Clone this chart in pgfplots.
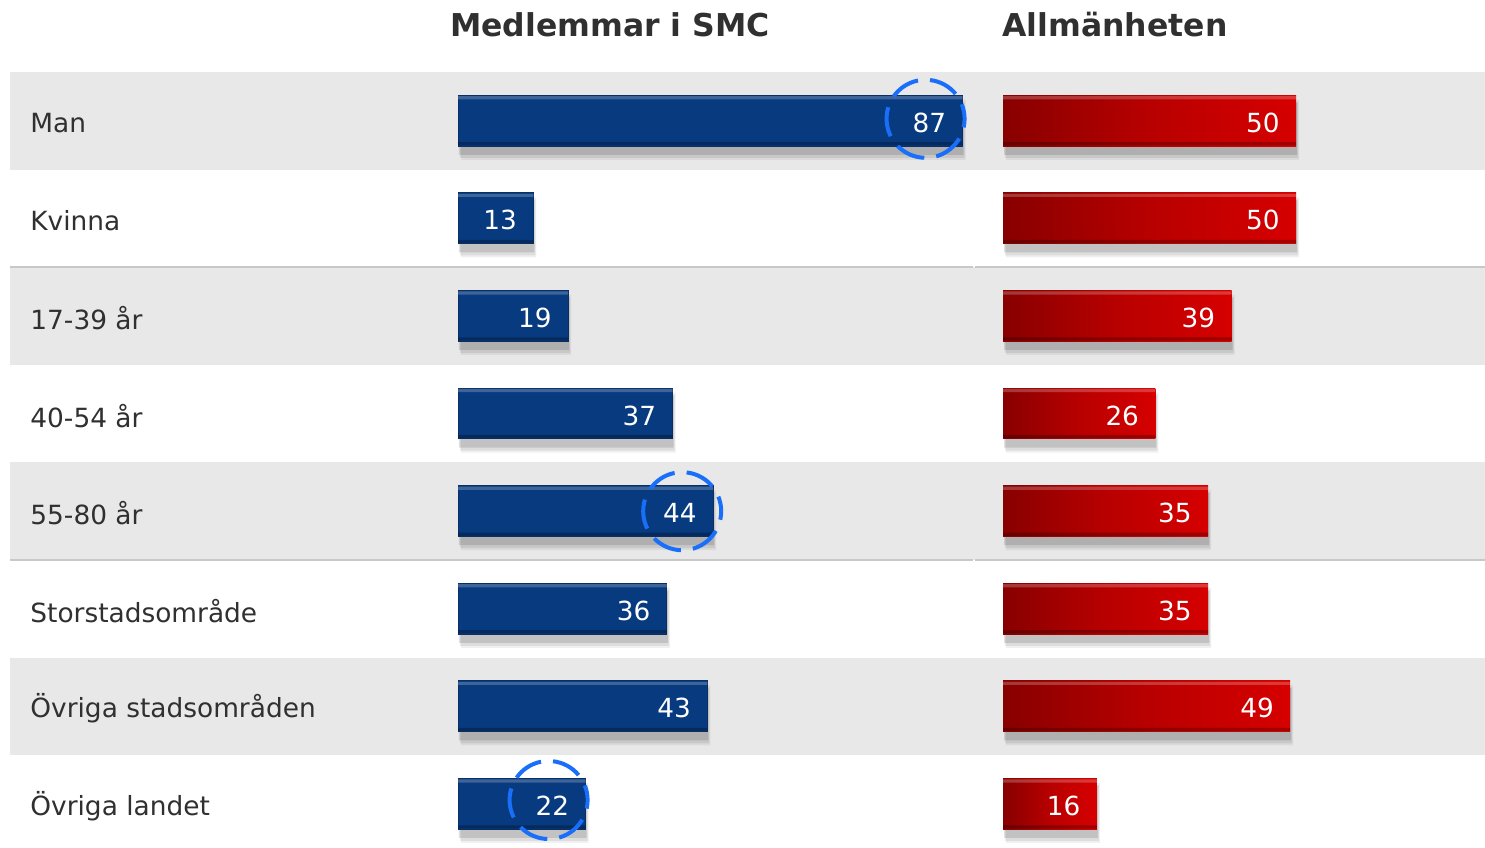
\documentclass[border=0pt]{standalone}
\usepackage{fontspec}
\setmainfont{DejaVu Sans}
\usepackage{pgfplots}
\pgfplotsset{compat=1.18}
\definecolor{band}{HTML}{E8E8E8}
\definecolor{sep}{HTML}{C8C8C8}
\definecolor{smcblue}{HTML}{073A7E}
\definecolor{smcedge}{HTML}{0A2F66}
\definecolor{rdark}{HTML}{880000}
\definecolor{rmid}{HTML}{B80000}
\definecolor{rlight}{HTML}{D60000}
\definecolor{ring}{RGB}{25,110,250}
\definecolor{txt}{HTML}{303030}

\pgfplotsset{
  panel/.style={
    xbar, bar shift=0pt, bar width=25.4bp,
    scale only axis,
    height=390.4bp,
    ymin=0.5, ymax=8.5, y dir=reverse,
    xmin=0,
    axis line style={draw=none},
    major tick length=0pt,
    xtick=\empty,
    clip=false,
    every node near coord/.append style={anchor=east, xshift=-8bp, yshift=-1bp, inner sep=0pt, text=white, font=\fontsize{13.2}{15}\selectfont},
    /pgf/number format/assume math mode=true,
    anchor=north west,
  },
  shadow1/.style={fill=black, draw=none, fill opacity=0.06, bar width=30bp, bar shift=-4.5bp, xshift=1.5bp, forget plot},
  shadow2/.style={fill=black, draw=none, fill opacity=0.08, bar width=28bp, bar shift=-4.5bp, xshift=1bp, forget plot},
  shadow3/.style={fill=black, draw=none, fill opacity=0.12, bar width=26bp, bar shift=-4bp, xshift=0.5bp, forget plot},
  hilite/.style={fill=white, draw=none, fill opacity=0.22, bar width=1.6bp, bar shift=11.5bp, forget plot},
  lolite/.style={fill=black, draw=none, fill opacity=0.25, bar width=1.6bp, bar shift=-11.5bp, forget plot},
  redbar/.style={left color=rdark, right color=rlight, middle color=rmid, draw=none, nodes near coords},
}

\begin{document}
\begin{tikzpicture}
\useasboundingbox (0,0) rectangle (742.5bp,424bp);
\fill[white] (0,0) rectangle (742.5bp,424bp);
% row bands
\fill[band] (5bp,339.2bp) rectangle (742.5bp,388bp);
\fill[band] (5bp,241.6bp) rectangle (742.5bp,290.4bp);
\fill[band] (5bp,144bp) rectangle (742.5bp,192.8bp);
\fill[band] (5bp,46.4bp) rectangle (742.5bp,95.2bp);
% separators
\draw[sep, line width=1bp] (5bp,290.4bp) -- (486.5bp,290.4bp);
\draw[sep, line width=1bp] (487.5bp,290.4bp) -- (742.5bp,290.4bp);
\draw[sep, line width=1bp] (5bp,144bp) -- (486.5bp,144bp);
\draw[sep, line width=1bp] (487.5bp,144bp) -- (742.5bp,144bp);
% titles
\node[font=\bfseries\fontsize{15.8}{18}\selectfont, text=txt] at (305bp,411.5bp) {Medlemmar i SMC};
\node[font=\bfseries\fontsize{15.8}{18}\selectfont, text=txt] at (557.5bp,411.5bp) {Allmänheten};

% left panel: members
\begin{axis}[panel,
  at={(229bp,388bp)},
  width=261bp, xmax=90,
  ytick={1,2,3,4,5,6,7,8},
  yticklabels={Man,Kvinna,17-39 år,40-54 år,55-80 år,Storstadsområde,Övriga stadsområden,Övriga landet},
  yticklabel style={anchor=west, xshift=-214bp, yshift=-1bp, inner sep=0pt, text=txt, font=\fontsize{13.25}{16}\selectfont},
]
\addplot[shadow1] coordinates {(87,1) (13,2) (19,3) (37,4) (44,5) (36,6) (43,7) (22,8)};
\addplot[shadow2] coordinates {(87,1) (13,2) (19,3) (37,4) (44,5) (36,6) (43,7) (22,8)};
\addplot[shadow3] coordinates {(87,1) (13,2) (19,3) (37,4) (44,5) (36,6) (43,7) (22,8)};
\addplot[fill=smcblue, draw=smcedge, line width=0.5bp, nodes near coords] coordinates {
  (87,1) (13,2) (19,3) (37,4) (44,5) (36,6) (43,7) (22,8)
};
\addplot[hilite] coordinates {(87,1) (13,2) (19,3) (37,4) (44,5) (36,6) (43,7) (22,8)};
\addplot[lolite] coordinates {(87,1) (13,2) (19,3) (37,4) (44,5) (36,6) (43,7) (22,8)};
\draw[ring, line width=2bp, dash pattern=on 14.9bp off 6.04bp, dash phase=7.45bp] (axis cs:87,1) ++(-18.5bp,1bp) circle[radius=19.5bp];
\draw[ring, line width=2bp, dash pattern=on 14.9bp off 6.04bp, dash phase=7.45bp] (axis cs:44,5) ++(-15.5bp,0bp) circle[radius=19.5bp];
\draw[ring, line width=2bp, dash pattern=on 14.9bp off 6.04bp, dash phase=7.45bp] (axis cs:22,8) ++(-18.5bp,2bp) circle[radius=19.5bp];
\end{axis}

% right panel: general public
\begin{axis}[panel,
  at={(501.5bp,388bp)},
  width=240.26bp, xmax=82,
  ytick=\empty,
]
\addplot[shadow1] coordinates {(50,1) (50,2) (39,3) (26,4) (35,5) (35,6) (49,7) (16,8)};
\addplot[shadow2] coordinates {(50,1) (50,2) (39,3) (26,4) (35,5) (35,6) (49,7) (16,8)};
\addplot[shadow3] coordinates {(50,1) (50,2) (39,3) (26,4) (35,5) (35,6) (49,7) (16,8)};
\addplot[redbar] coordinates {(50,1)};
\addplot[redbar] coordinates {(50,2)};
\addplot[redbar] coordinates {(39,3)};
\addplot[redbar] coordinates {(26,4)};
\addplot[redbar] coordinates {(35,5)};
\addplot[redbar] coordinates {(35,6)};
\addplot[redbar] coordinates {(49,7)};
\addplot[redbar] coordinates {(16,8)};
\addplot[hilite] coordinates {(50,1) (50,2) (39,3) (26,4) (35,5) (35,6) (49,7) (16,8)};
\addplot[lolite] coordinates {(50,1) (50,2) (39,3) (26,4) (35,5) (35,6) (49,7) (16,8)};
\end{axis}
\end{tikzpicture}
\end{document}
